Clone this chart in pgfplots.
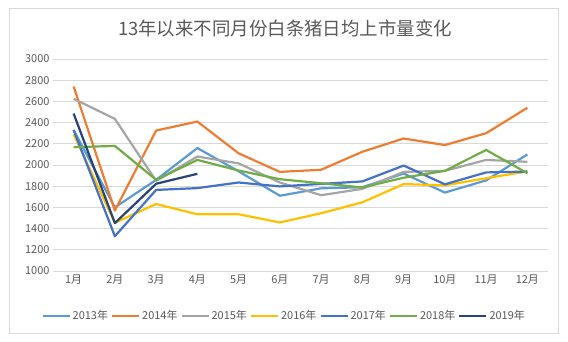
\documentclass[border=0pt]{standalone}
\usepackage{pgfplots}
\pgfplotsset{compat=1.18}
\usepackage{fontspec}
\setmainfont{Noto Sans CJK SC}
\definecolor{c13}{HTML}{5B9BD5}
\definecolor{c14}{HTML}{ED7D31}
\definecolor{c15}{HTML}{A5A5A5}
\definecolor{c16}{HTML}{FFC000}
\definecolor{c17}{HTML}{4472C4}
\definecolor{c18}{HTML}{70AD47}
\definecolor{c19}{HTML}{264478}
\definecolor{txt}{HTML}{595959}
\definecolor{grd}{HTML}{D9D9D9}
\begin{document}
\begin{tikzpicture}[x=1bp,y=1bp]
\path[use as bounding box] (0,0) rectangle (568,341);
\draw[grd, line width=0.8bp] (9,8) rectangle (558,333);
\node[txt, font=\fontsize{18.5}{22}\selectfont] at (285,313) {13年以来不同月份白条猪日均上市量变化};
\begin{axis}[
  at={(53bp,70bp)}, anchor=south west,
  scale only axis, width=495bp, height=212bp,
  xmin=0.5, xmax=12.5, ymin=1000, ymax=3000,
  xtick={1,...,12},
  xticklabels={1月,2月,3月,4月,5月,6月,7月,8月,9月,10月,11月,12月},
  ytick={1000,1200,...,3000},
  ymajorgrids, grid style={grd, line width=0.8bp},
  axis line style={draw=none},
  tick style={draw=none},
  tick label style={txt, font=\fontsize{11}{13}\selectfont},
  /pgf/number format/assume math mode=true,
  /pgf/number format/1000 sep={},
  legend columns=7,
  legend style={at={(0.467,-0.212)}, anchor=center, draw=none, fill=none,
    font=\fontsize{11}{13}\selectfont, text=txt,
    /tikz/every even column/.append style={column sep=1bp},
    /tikz/every odd column/.append style={column sep=0bp}},
  legend image code/.code={\draw[#1, line width=2.2bp] (0,0) -- (27bp,0);},
  every axis plot/.append style={line width=2.2bp, line join=round, mark=none},
]
\addplot[c13] coordinates {(1,2330)(2,1600)(3,1860)(4,2160)(5,1940)(6,1710)(7,1780)(8,1790)(9,1920)(10,1740)(11,1855)(12,2100)};
\addlegendentry{2013年}
\addplot[c14] coordinates {(1,2740)(2,1570)(3,2325)(4,2410)(5,2110)(6,1935)(7,1955)(8,2125)(9,2250)(10,2188)(11,2300)(12,2540)};
\addlegendentry{2014年}
\addplot[c15] coordinates {(1,2625)(2,2435)(3,1850)(4,2080)(5,2015)(6,1835)(7,1715)(8,1775)(9,1935)(10,1945)(11,2048)(12,2030)};
\addlegendentry{2015年}
\addplot[c16] coordinates {(1,2290)(2,1455)(3,1632)(4,1535)(5,1535)(6,1458)(7,1545)(8,1648)(9,1820)(10,1808)(11,1875)(12,1940)};
\addlegendentry{2016年}
\addplot[c17] coordinates {(1,2330)(2,1328)(3,1765)(4,1782)(5,1835)(6,1798)(7,1822)(8,1845)(9,1995)(10,1818)(11,1930)(12,1938)};
\addlegendentry{2017年}
\addplot[c18] coordinates {(1,2168)(2,2180)(3,1860)(4,2048)(5,1948)(6,1866)(7,1828)(8,1788)(9,1880)(10,1945)(11,2142)(12,1922)};
\addlegendentry{2018年}
\addplot[c19] coordinates {(1,2485)(2,1452)(3,1823)(4,1917)};
\addlegendentry{2019年}
\end{axis}
\end{tikzpicture}
\end{document}
